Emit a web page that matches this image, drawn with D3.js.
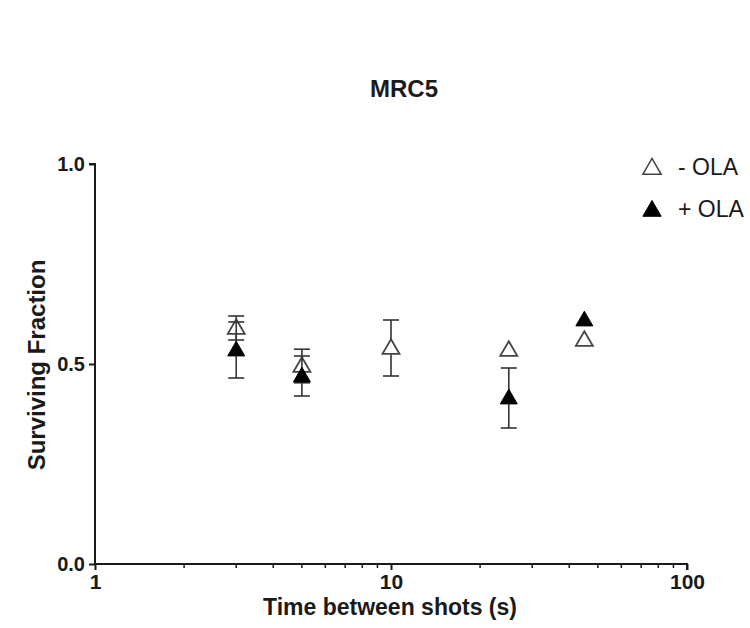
<!DOCTYPE html>
<html><head><meta charset="utf-8">
<script src="https://cdn.jsdelivr.net/npm/d3@7"></script>
<style>
html,body{margin:0;padding:0;background:#fff;}
svg{display:block;font-family:"Liberation Sans",Arial,sans-serif;}
</style></head>
<body>
<svg id="chart" width="750" height="628"></svg>
<script>
const times = [3, 5, 10, 25, 45];
const minusOLA = [0.59, 0.495, 0.54, 0.535, 0.56];
const minusOLAErr = [0.03, 0.042, 0.07, 0, 0];
const plusOLA = [0.535, 0.47, null, 0.415, 0.61];
const plusOLAErr = [0.07, 0.05, null, 0.075, 0];
const yTicks = [0.0, 0.5, 1.0];
const xTicks = [1, 10, 100];
const legendLabels = ["- OLA", "+ OLA"];

const svg = d3.select("#chart");
const x = d3.scaleLog().domain([1, 100]).range([95, 687]);
const y = d3.scaleLinear().domain([0, 1]).range([564, 164]);
const ink = "#1a1a1a";
const FF = "Liberation Sans, Arial, sans-serif";

// Title
svg.append("text").attr("x", 404).attr("y", 97).attr("text-anchor", "middle")
  .attr("font-size", 24).attr("font-weight", "bold").attr("fill", ink).text("MRC5");

// Y axis
const yAxis = svg.append("g").attr("transform", "translate(95,0)")
  .call(d3.axisLeft(y).tickValues(yTicks).tickFormat(d3.format(".1f")).tickSize(6).tickPadding(4));
yAxis.select(".domain").attr("stroke", ink).attr("stroke-width", 2).attr("d", "M-6,164H0V564");
yAxis.selectAll(".tick line").attr("stroke", ink).attr("stroke-width", 2);
yAxis.selectAll(".tick text").attr("font-size", 20).attr("font-weight", "bold").attr("fill", ink)
  .attr("font-family", FF);

// X axis
const minor = [];
for (let d = 1; d < 100; d *= 10) for (let k = 2; k <= 9; k++) minor.push(d * k);
const xAxis = svg.append("g").attr("transform", "translate(0,564)")
  .call(d3.axisBottom(x).tickValues(xTicks).tickFormat(d3.format("d")).tickSize(6).tickPadding(4));
xAxis.select(".domain").attr("stroke", ink).attr("stroke-width", 2).attr("d", "M95,0H687V6");
xAxis.selectAll(".tick line").attr("stroke", ink).attr("stroke-width", 2);
xAxis.selectAll(".tick text").attr("font-size", 21).attr("font-weight", "bold").attr("fill", ink)
  .attr("font-family", FF);
svg.append("g").attr("transform", "translate(0,564)").selectAll("line").data(minor).join("line")
  .attr("x1", d => x(d)).attr("x2", d => x(d)).attr("y1", 0).attr("y2", 4)
  .attr("stroke", ink).attr("stroke-width", 1.5);

// Axis titles
svg.append("text").attr("x", 390).attr("y", 615).attr("text-anchor", "middle")
  .attr("font-size", 23).attr("font-weight", "bold").attr("fill", ink).text("Time between shots (s)");
svg.append("text").attr("transform", "translate(45,365) rotate(-90)").attr("text-anchor", "middle")
  .attr("font-size", 24).attr("font-weight", "bold").attr("fill", ink).text("Surviving Fraction");

const tri = d3.symbol().type(d3.symbolTriangle).size(125);
const triL = d3.symbol().type(d3.symbolTriangle).size(145);

function drawSeries(vals, errs, filled) {
  const pts = times.map((t, i) => ({t, v: vals[i], e: errs[i]})).filter(d => d.v != null);
  const g = svg.append("g");
  const eb = pts.filter(d => d.e > 0);
  g.selectAll(".stem").data(eb).join("line")
    .attr("x1", d => x(d.t)).attr("x2", d => x(d.t))
    .attr("y1", d => y(d.v + d.e)).attr("y2", d => y(d.v - d.e))
    .attr("stroke", "#333").attr("stroke-width", 1.6);
  ["+", "-"].forEach(s => {
    g.selectAll(".cap" + (s === "+" ? "u" : "l")).data(eb).join("line")
      .attr("x1", d => x(d.t) - 8).attr("x2", d => x(d.t) + 8)
      .attr("y1", d => y(s === "+" ? d.v + d.e : d.v - d.e))
      .attr("y2", d => y(s === "+" ? d.v + d.e : d.v - d.e))
      .attr("stroke", "#333").attr("stroke-width", 1.6);
  });
  g.selectAll("path.pt").data(pts).join("path")
    .attr("transform", d => `translate(${x(d.t)},${y(d.v) + 1})`)
    .attr("d", tri)
    .attr("fill", filled ? "#000" : "#fff")
    .attr("stroke", filled ? "#000" : "#444")
    .attr("stroke-width", filled ? 1 : 1.8);
}
drawSeries(minusOLA, minusOLAErr, false);
drawSeries(plusOLA, plusOLAErr, true);

// Legend
const leg = svg.append("g");
legendLabels.forEach((lab, i) => {
  const ly = 169 + i * 42;
  leg.append("path").attr("transform", `translate(652,${ly})`).attr("d", triL)
    .attr("fill", i === 1 ? "#000" : "#fff").attr("stroke", i === 1 ? "#000" : "#444")
    .attr("stroke-width", i === 1 ? 1 : 1.5);
  leg.append("text").attr("x", 678).attr("y", ly + 6).attr("font-size", 23)
    .attr("fill", ink).text(lab);
});
</script>
</body></html>
